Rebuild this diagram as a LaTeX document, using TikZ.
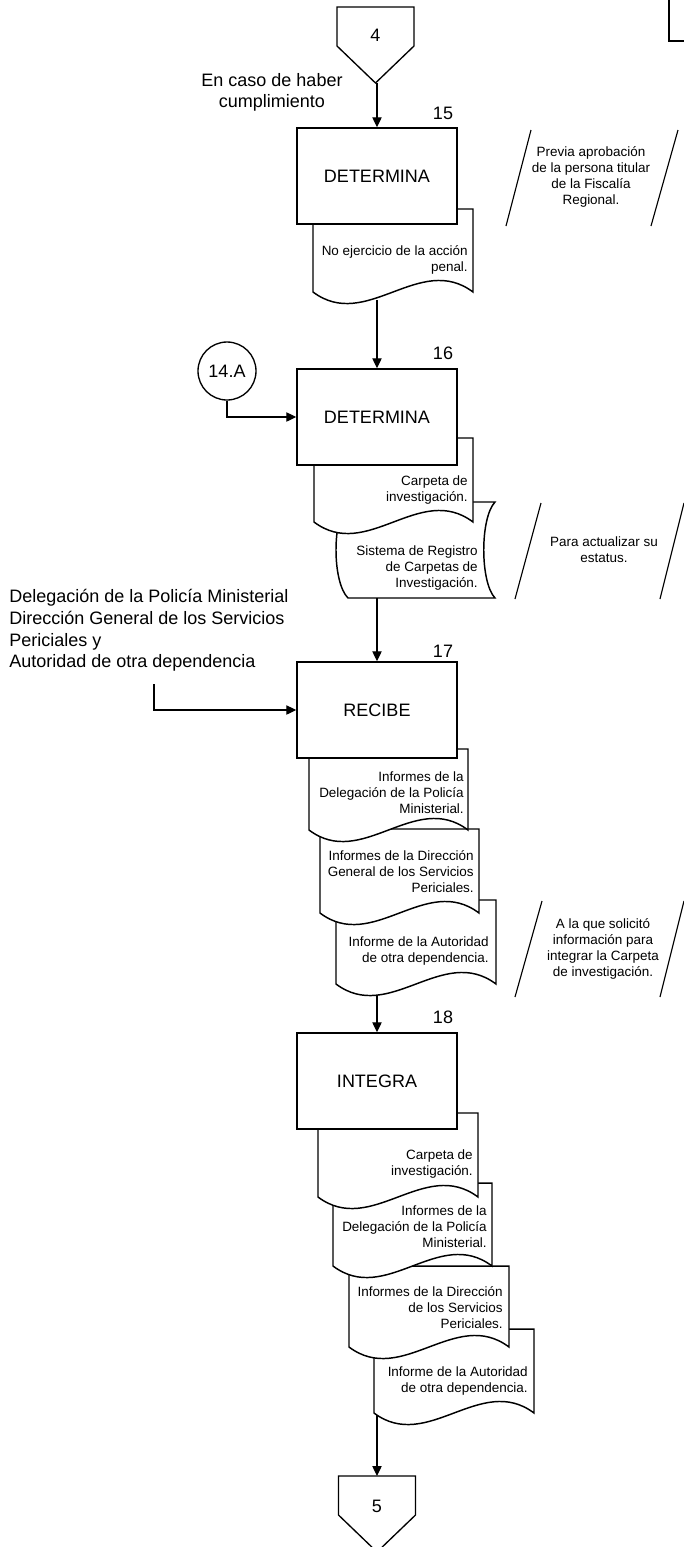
\documentclass[tikz,border=0pt]{standalone}
\usepackage{fontspec}
\setmainfont{Liberation Sans}
\usetikzlibrary{arrows.meta}

\tikzset{
  bigtext/.style={font=\fontsize{13.5}{16.2}\selectfont},
  smalltext/.style={font=\fontsize{10.1}{12}\selectfont},
  procbox/.style={draw, fill=white, line width=1.1pt, minimum width=120pt,
    minimum height=72pt, inner sep=0pt, bigtext},
  sheet/.style={draw, fill=white, line width=1.1pt},
  doctext/.style={smalltext, align=right, inner sep=0pt, anchor=east},
  notetext/.style={smalltext, align=center, inner sep=0pt},
  noteline/.style={line width=0.85pt},
  flow/.style={line width=0.9pt, -{Triangle[length=7.5pt,width=7pt]}},
  steplabel/.style={bigtext, inner sep=0pt},
  plaintext/.style={bigtext, inner sep=0pt},
}

% document sheet with a wavy lower edge: left, right, top, bottom
\newcommand{\docsheet}[4]{%
  \draw[sheet] (#1,#3) -- (#2,#3) -- (#2,#4)
    .. controls ({(#1+2*#2)/3},{#4-40}) and ({(2*#1+#2)/3},{#4+40}) .. (#1,#4) -- cycle;}

\begin{document}
\begin{tikzpicture}[x=0.75pt,y=-0.75pt]
\useasboundingbox (0,0) rectangle (683,1547);

% page corner
\draw[line width=1.5pt] (669,-2) -- (669,41) -- (685,41);

% off-page connector 4
\draw[line width=1pt] (337,7) -- (414,7) -- (414,46) -- (375.5,83) -- (337,46) -- cycle;
\node[plaintext] (c4) at (375.5,35) {4};
\coordinate (c4tip) at (377,83);
\node[plaintext, align=center] (cond) at (272,92.5) {En caso de haber\\cumplimiento};

% step 15
\docsheet{313}{473}{209}{292}
\node[doctext] (t15) at (468,259.5) {No ejercicio de la acción\\penal.};
\node[procbox] (b15) at (377,176) {DETERMINA};
\node[steplabel] (n15) at (443,113) {15};
\coordinate (d15out) at (377,300);

\draw[noteline] (531,130) -- (506,226);
\draw[noteline] (678,130) -- (651,226);
\node[notetext] (a15) at (591,176.5) {Previa aprobación\\de la persona titular\\de la Fiscalía\\Regional.};

% step 16
\draw[sheet] (348,502) -- (495,502) .. controls (480,518) and (480,582) .. (495,598)
  -- (348,598) .. controls (332,582) and (332,518) .. (348,502) -- cycle;
\node[doctext] (t16b) at (478,568.5) {Sistema de Registro\\de Carpetas de\\Investigación.};
\coordinate (s16out) at (377,598);
\docsheet{314}{473}{438}{522}
\node[doctext] (t16a) at (468,490) {Carpeta de\\investigación.};
\node[procbox] (b16) at (377,417) {DETERMINA};
\node[steplabel] (n16) at (443,353) {16};

\node[circle, draw, line width=1pt, minimum size=43.5pt, inner sep=0pt, bigtext] (c14) at (227,371) {14.A};

\draw[noteline] (541,503) -- (515,599);
\draw[noteline] (684,503) -- (660,599);
\node[notetext] (a16) at (604,550) {Para actualizar su\\estatus.};

% step 17
\docsheet{336}{496}{900}{984}
\node[doctext] (t17c) at (489,951) {Informe de la Autoridad\\de otra dependencia.};
\coordinate (d17out) at (377,995);
\docsheet{320}{479}{829}{913}
\node[doctext] (t17b) at (474,872) {Informes de la Dirección\\General de los Servicios\\Periciales.};
\docsheet{309}{468}{749}{830}
\node[doctext] (t17a) at (464,793) {Informes de la\\Delegación de la Policía\\Ministerial.};
\node[procbox] (b17) at (377,710) {RECIBE};
\node[steplabel] (n17) at (443,651) {17};

\node[plaintext, align=left, anchor=west] (src17) at (9,630.5)
  {Delegación de la Policía Ministerial\\Dirección General de los Servicios\\Periciales y\\Autoridad de otra dependencia};
\coordinate (in17) at (154,684);

\draw[noteline] (542,901) -- (515,997);
\draw[noteline] (684,901) -- (660,997);
\node[notetext] (a17) at (603,949) {A la que solicitó\\información para\\integrar la Carpeta\\de investigación.};

% step 18
\docsheet{374}{534}{1329}{1413}
\node[doctext] (t18d) at (528,1381) {Informe de la Autoridad\\de otra dependencia.};
\coordinate (d18out) at (377,1415);
\docsheet{349}{509}{1266}{1347}
\node[doctext] (t18c) at (503,1308) {Informes de la Dirección\\de los Servicios\\Periciales.};
\docsheet{333}{492}{1183}{1266}
\node[doctext] (t18b) at (487,1226.5) {Informes de la\\Delegación de la Policía\\Ministerial.};
\docsheet{318}{478}{1113}{1197}
\node[doctext] (t18a) at (473,1164.5) {Carpeta de\\investigación.};
\node[procbox] (b18) at (377,1081) {INTEGRA};
\node[steplabel] (n18) at (443,1017) {18};

% off-page connector 5
\draw[line width=1pt] (338.5,1476) -- (415.5,1476) -- (415.5,1515) -- (377,1552) -- (338.5,1515) -- cycle;
\node[plaintext] (c5) at (377,1506) {5};
\coordinate (c5top) at (377,1476);

% flow connectors
\draw[flow] (c4tip) -- (b15.north);
\draw[flow] (d15out) -- (b16.north);
\draw[flow] (c14.south) |- (b16.west);
\draw[flow] (s16out) -- (b17.north);
\draw[flow] (in17) |- (b17.west);
\draw[flow] (d17out) -- (b18.north);
\draw[flow] (d18out) -- (c5top);
\end{tikzpicture}
\end{document}
